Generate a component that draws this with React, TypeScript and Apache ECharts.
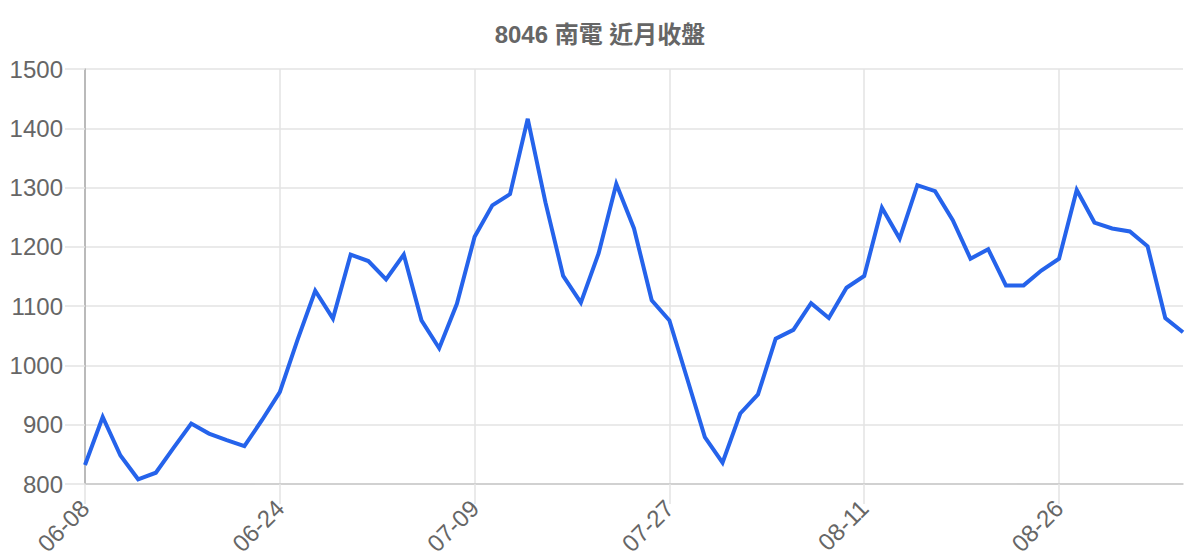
import { useEffect, useRef } from "react";
import * as echarts from "echarts";

const TITLE = "8046 南電 近月收盤";

const DATES = [
  "06-08", "06-09", "06-10", "06-11", "06-15", "06-16", "06-17", "06-18", "06-21", "06-22",
  "06-23", "06-24", "06-25", "06-28", "06-29", "06-30", "07-01", "07-02", "07-05", "07-06",
  "07-07", "07-08", "07-09", "07-12", "07-13", "07-14", "07-15", "07-16", "07-19", "07-20",
  "07-21", "07-22", "07-26", "07-27", "07-28", "07-29", "07-30", "08-02", "08-03", "08-04",
  "08-05", "08-06", "08-09", "08-10", "08-11", "08-12", "08-13", "08-16", "08-17", "08-18",
  "08-19", "08-20", "08-23", "08-24", "08-25", "08-26", "08-27", "08-30", "08-31", "09-01",
  "09-02", "09-03", "09-06",
];

const CLOSES = [
  832, 913, 848, 808, 819, 861, 902, 885, 874, 864,
  908, 955, 1043, 1126, 1079, 1187, 1176, 1145, 1187, 1076,
  1029, 1104, 1217, 1270, 1289, 1416, 1275, 1151, 1106, 1189,
  1306, 1231, 1110, 1076, 978, 879, 836, 919, 951, 1045,
  1060, 1105, 1080, 1131, 1151, 1266, 1214, 1304, 1294, 1245,
  1180, 1196, 1135, 1135, 1160, 1180, 1296, 1241, 1231, 1226,
  1201, 1080, 1056,
];

const Y_MIN = 800;
const Y_MAX = 1500;
const Y_STEP = 100;
const LABEL_EVERY = 10; // ECharts interval: skip 10 between labels

const FONT = '"Liberation Sans", Arial, "Noto Sans CJK TC", sans-serif';
const GRID_COLOR = "#e3e3e3";
const TEXT_COLOR = "#666";

export default function App() {
  const chartRef = useRef<HTMLDivElement>(null);

  useEffect(() => {
    if (!chartRef.current) return;
    const chart = echarts.init(chartRef.current, undefined, { renderer: "svg" });

    chart.setOption({
      animation: false,
      backgroundColor: "#fff",
      textStyle: { fontFamily: FONT },
      title: {
        text: TITLE,
        left: "center",
        top: 17,
        textStyle: { fontSize: 24, fontWeight: "bold", color: TEXT_COLOR, fontFamily: FONT },
      },
      grid: { left: 85, right: 17, top: 69, bottom: 76, containLabel: false },
      xAxis: {
        type: "category",
        data: DATES,
        boundaryGap: false,
        axisLine: { show: true, lineStyle: { color: "#c8c8c8", width: 1.5 } },
        axisTick: { show: true, interval: LABEL_EVERY, length: 20, lineStyle: { color: GRID_COLOR, width: 1.5 } },
        axisLabel: {
          interval: LABEL_EVERY,
          rotate: 45,
          fontSize: 24,
          color: TEXT_COLOR,
          margin: 20,
          fontFamily: FONT,
        },
        splitLine: { show: true, interval: LABEL_EVERY, lineStyle: { color: GRID_COLOR, width: 1.5 } },
      },
      yAxis: {
        type: "value",
        min: Y_MIN,
        max: Y_MAX,
        interval: Y_STEP,
        axisLine: { show: true, lineStyle: { color: "#aaa", width: 1.5 } },
        axisTick: { show: true, length: 20, lineStyle: { color: GRID_COLOR, width: 1.5 } },
        axisLabel: {
          fontSize: 24,
          color: TEXT_COLOR,
          margin: 22,
          fontFamily: FONT,
          formatter: (v: number) => String(v),
        },
        splitLine: { show: true, lineStyle: { color: GRID_COLOR, width: 1.5 } },
      },
      series: [
        {
          type: "line",
          data: CLOSES,
          showSymbol: false,
          symbol: "none",
          lineStyle: { color: "#2563eb", width: 4, join: "miter" },
          itemStyle: { color: "#2563eb" },
        },
      ],
    });

    return () => chart.dispose();
  }, []);

  return (
    <div
      ref={chartRef}
      style={{ position: "absolute", left: 0, top: 0, width: "1200px", height: "560px" }}
    />
  );
}
